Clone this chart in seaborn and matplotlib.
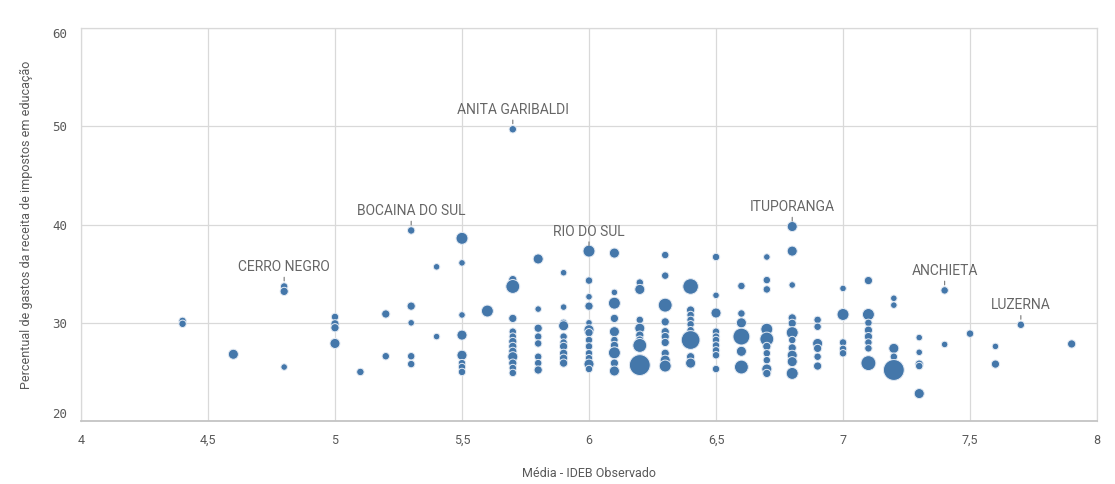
import matplotlib
matplotlib.use("Agg")
import matplotlib.pyplot as plt
import seaborn as sns
import pandas as pd

# IDEB observado (x), gasto em educação % (y), tamanho da bolha
ideb = [4.4, 4.4,
        4.6,
        4.8, 4.8, 4.8,
        5.0, 5.0, 5.0, 5.0,
        5.1,
        5.2, 5.2,
        5.3, 5.3, 5.3, 5.3, 5.3,
        5.4, 5.4,
        5.5, 5.5, 5.5, 5.5, 5.5, 5.5, 5.5, 5.5,
        5.6,
        5.7, 5.7, 5.7, 5.7, 5.7, 5.7, 5.7, 5.7, 5.7, 5.7, 5.7, 5.7, 5.7,
        5.8, 5.8, 5.8, 5.8, 5.8, 5.8, 5.8, 5.8,
        5.9, 5.9, 5.9, 5.9, 5.9, 5.9, 5.9, 5.9, 5.9, 5.9,
        6.0, 6.0, 6.0, 6.0, 6.0, 6.0, 6.0, 6.0, 6.0, 6.0, 6.0, 6.0, 6.0,
        6.1, 6.1, 6.1, 6.1, 6.1, 6.1, 6.1, 6.1, 6.1, 6.1,
        6.2, 6.2, 6.2, 6.2, 6.2, 6.2, 6.2, 6.2, 6.2,
        6.3, 6.3, 6.3, 6.3, 6.3, 6.3, 6.3, 6.3, 6.3, 6.3,
        6.4, 6.4, 6.4, 6.4, 6.4, 6.4, 6.4, 6.4, 6.4,
        6.5, 6.5, 6.5, 6.5, 6.5, 6.5, 6.5, 6.5, 6.5, 6.5,
        6.6, 6.6, 6.6, 6.6, 6.6, 6.6,
        6.7, 6.7, 6.7, 6.7, 6.7, 6.7, 6.7, 6.7, 6.7, 6.7,
        6.8, 6.8, 6.8, 6.8, 6.8, 6.8, 6.8, 6.8, 6.8, 6.8, 6.8,
        6.9, 6.9, 6.9, 6.9, 6.9, 6.9,
        7.0, 7.0, 7.0, 7.0, 7.0,
        7.1, 7.1, 7.1, 7.1, 7.1, 7.1, 7.1, 7.1,
        7.2, 7.2, 7.2, 7.2, 7.2,
        7.3, 7.3, 7.3, 7.3, 7.3,
        7.4, 7.4,
        7.5,
        7.6, 7.6,
        7.7,
        7.9]

gasto = [30.2, 29.9,
         26.8,
         33.7, 33.2, 25.5,
         30.6, 29.9, 29.5, 27.9,
         25.0,
         30.9, 26.6,
         39.4, 31.7, 30.0, 26.6, 25.8,
         35.7, 28.6,
         38.6, 36.1, 30.8, 28.75, 26.7, 25.9, 25.5, 25.0,
         31.2,
         49.7, 34.4, 33.7, 30.45, 29.1, 28.6, 28.1, 27.6, 27.1, 26.55, 25.9, 25.4, 24.9,
         36.5, 31.4, 29.45, 28.6, 27.9, 26.55, 25.9, 25.2,
         35.1, 31.6, 30.0, 29.7, 28.6, 28.0, 27.6, 26.9, 26.4, 25.9,
         37.3, 34.3, 32.65, 31.7, 30.0, 29.3, 29.0, 28.25, 27.6, 26.9, 26.4, 25.8, 25.3,
         37.1, 33.1, 32.0, 30.45, 29.1, 28.25, 27.7, 26.95, 25.9, 25.1,
         34.1, 33.4, 30.3, 29.45, 28.75, 28.25, 27.7, 26.4, 25.7,
         36.9, 34.8, 31.8, 30.1, 29.1, 28.6, 28.0, 26.9, 26.2, 25.6,
         33.7, 31.3, 30.8, 30.3, 29.85, 29.25, 28.25, 26.55, 25.9,
         36.7, 32.8, 31.0, 29.1, 28.6, 28.25, 27.7, 27.2, 26.7, 25.3,
         33.75, 30.95, 30.0, 28.6, 27.1, 25.5,
         36.7, 34.35, 33.4, 29.35, 28.35, 27.6, 26.9, 26.2, 25.3, 24.85,
         39.8, 37.3, 33.85, 30.5, 29.95, 29.0, 28.25, 27.45, 26.7, 26.05, 24.85,
         30.3, 29.6, 27.9, 27.4, 26.55, 25.6,
         33.5, 30.85, 28.0, 27.35, 26.9,
         34.3, 30.85, 30.0, 29.25, 28.6, 28.0, 27.4, 25.9,
         32.5, 31.8, 27.4, 26.55, 25.2,
         28.5, 27.0, 25.8, 25.6, 22.8,
         33.3, 27.8,
         28.9,
         27.6, 25.8,
         29.8,
         27.85]

tamanho = [9, 9,
           20,
           9, 12, 6,
           9, 12, 12, 20,
           9,
           12, 9,
           9, 12, 6, 9, 9,
           6, 6,
           30, 6, 6, 20, 20, 9, 9, 9,
           30,
           9, 12, 42, 12, 9, 9, 12, 12, 12, 20, 12, 9, 9,
           20, 6, 12, 9, 9, 9, 9, 12,
           6, 6, 9, 20, 9, 9, 12, 12, 12, 12,
           30, 9, 6, 12, 6, 20, 12, 9, 9, 9, 9, 20, 9,
           20, 6, 30, 12, 20, 9, 12, 30, 12, 20,
           9, 20, 9, 20, 12, 12, 42, 12, 100,
           9, 9, 42, 12, 12, 12, 12, 12, 20, 30,
           54, 12, 9, 9, 9, 9, 80, 12, 20,
           9, 6, 20, 9, 9, 9, 9, 9, 9, 9,
           9, 9, 20, 64, 20, 42,
           6, 9, 9, 30, 42, 12, 9, 9, 20, 12,
           20, 20, 6, 12, 12, 30, 9, 12, 20, 20, 30,
           9, 9, 20, 12, 9, 12,
           6, 30, 9, 9, 9,
           12, 30, 9, 12, 12, 9, 9, 49,
           6, 6, 20, 9, 100,
           6, 6, 12, 9, 20,
           9, 6,
           9,
           4, 12,
           9,
           12]

# municípios destacados
rotulos = ["ANITA GARIBALDI", "CERRO NEGRO", "BOCAINA DO SUL", "RIO DO SUL",
           "ITUPORANGA", "ANCHIETA", "LUZERNA"]
rotulos_x = [5.7, 4.8, 5.3, 6.0, 6.8, 7.4, 7.7]
rotulos_y = [49.7, 33.7, 39.4, 37.3, 39.8, 33.3, 29.8]

df = pd.DataFrame({"ideb": ideb, "gasto": gasto, "tamanho": tamanho})

sns.set_theme(style="white")
plt.rcParams["font.family"] = ["Roboto", "DejaVu Sans"]

fig = plt.figure(figsize=(11.15, 4.84), dpi=100)
ax = fig.add_axes([0.0726, 0.130, 0.9113, 0.812])

sns.scatterplot(data=df, x="ideb", y="gasto", size="tamanho",
                sizes=(22, 225), size_norm=(6, 100), color="#4477aa",
                edgecolor="#e3eaf3", linewidth=0.7, legend=False, ax=ax,
                zorder=3)

for nome, x, y in zip(rotulos, rotulos_x, rotulos_y):
    ax.annotate(nome, xy=(x, y), xytext=(0, 9), textcoords="offset points",
                ha="center", va="bottom", fontsize=10, color="#666666",
                arrowprops=dict(arrowstyle="-", color="#777777", lw=0.8,
                                shrinkA=0, shrinkB=4), zorder=4)

ax.set_xlim(4, 8)
ax.set_ylim(20, 60)
ax.set_xticks([4, 4.5, 5, 5.5, 6, 6.5, 7, 7.5, 8])
ax.set_xticklabels(["4", "4,5", "5", "5,5", "6", "6,5", "7", "7,5", "8"])
ax.set_yticks([20, 30, 40, 50, 60])
ax.grid(True, color="#d9d9d9", lw=0.9)
ax.set_axisbelow(True)
for s in ax.spines.values():
    s.set_color("#d9d9d9")
    s.set_linewidth(0.9)
ax.spines["bottom"].set_color("#c4c4c4")
ax.spines["bottom"].set_linewidth(1.3)

ax.tick_params(axis="both", length=0, labelsize=9, colors="#595959")
ax.tick_params(axis="y", pad=10)
ax.tick_params(axis="x", pad=9)
ylabs = ax.get_yticklabels()
ylabs[0].set_va("bottom")
ylabs[-1].set_va("top")
for t in ylabs:
    t.set_family("DejaVu Sans Mono")

ax.set_xlabel("Média - IDEB Observado", fontsize=9, color="#595959", labelpad=15)
ax.set_ylabel("Percentual de gastos da receita de impostos em educação",
              fontsize=9, color="#595959", labelpad=14)

fig.savefig("out.png", dpi=100)
